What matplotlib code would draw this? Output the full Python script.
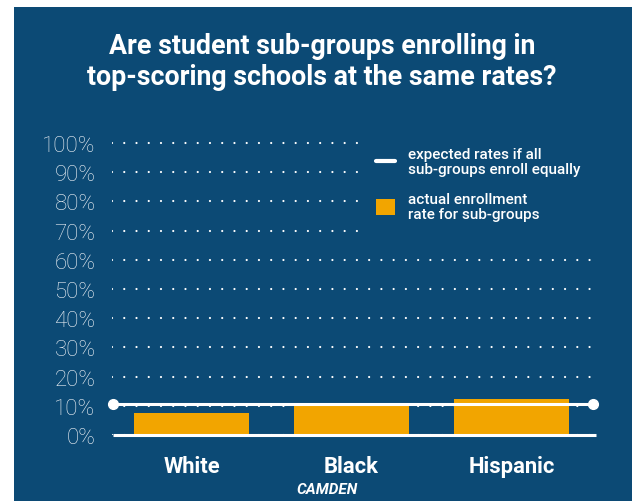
import matplotlib.pyplot as plt
from matplotlib.lines import Line2D
from matplotlib.patches import Patch, Rectangle

plt.rcParams['font.family'] = ['Roboto', 'DejaVu Sans']

# data
groups = ['White', 'Black', 'Hispanic']
actual = [7.4, 10.0, 12.2]
expected = 10.6
yticks = [0, 10, 20, 30, 40, 50, 60, 70, 80, 90, 100]
ytick_labels = [f'{t}%' for t in yticks]

bg = '#0c4a75'
orange = '#f2a500'

fig = plt.figure(figsize=(6.37, 5.02), dpi=100, facecolor='white')
# blue panel
fig.patches.append(Rectangle((14 / 637, 0), (632 - 14) / 637, (502 - 8) / 502,
                             transform=fig.transFigure, facecolor=bg,
                             edgecolor='none', zorder=-10))

ax = fig.add_axes([111.5 / 637, 66 / 502, 484.8 / 637, 297.8 / 502])
ax.set_facecolor('none')

x = list(range(len(groups)))
ax.bar(x, actual, width=0.72, color=orange, zorder=2)

# dotted grid
for t in yticks:
    ax.axhline(t, color='white', lw=1.6, linestyle=(0, (0.01, 5.5)),
               dash_capstyle='round', zorder=1)

# axis baseline
ax.plot([-0.49, 2.53], [0, 0], color='white', lw=2.2, clip_on=False,
        solid_capstyle='butt', zorder=3)

# expected line
ax.plot([-0.49, 2.51], [expected, expected], color='white', lw=2.2,
        marker='o', markersize=7, clip_on=False, zorder=4)

ax.set_xlim(-0.5, 2.53)
ax.set_ylim(0, 102)
for s in ax.spines.values():
    s.set_visible(False)

ax.set_yticks(yticks)
ax.set_yticklabels(ytick_labels, fontsize=16, fontweight='light', color='#f0f3f7')
ax.set_xticks(x)
ax.set_xticklabels(groups, fontsize=15.8, fontweight='bold', color='white')
ax.tick_params(axis='y', length=0, pad=11.5)
ax.tick_params(axis='x', length=0, pad=14.5)

handles = [Line2D([0], [0], color='white', lw=3, solid_capstyle='round'),
           Patch(facecolor=orange, edgecolor='none')]
labels = ['expected rates if all\nsub-groups enroll equally',
          'actual enrollment\nrate for sub-groups']
leg = fig.legend(handles, labels, loc='upper left',
                 bbox_to_anchor=(358 / 637, 1 - 130 / 502),
                 frameon=True, facecolor=bg, edgecolor='none', framealpha=1,
                 fontsize=11, labelcolor='white', handlelength=1.25,
                 handleheight=1.25, handletextpad=0.8, labelspacing=1.0,
                 borderpad=1.2, borderaxespad=0)
for t in leg.get_texts():
    t.set_fontweight('medium')
    t.set_linespacing(1.1)
leg.set_zorder(5)

fig.text(322 / 637, 1 - 62 / 502,
         'Are student sub-groups enrolling in\ntop-scoring schools at the same rates?',
         ha='center', va='center', fontsize=19.3, fontweight='bold',
         color='white', linespacing=1.15)

fig.text(327 / 637, 1 - 490 / 502, 'CAMDEN', ha='center', va='center',
         fontsize=11, fontweight='bold', fontstyle='italic', color='white')

fig.savefig('out.png', dpi=100, facecolor='white')
